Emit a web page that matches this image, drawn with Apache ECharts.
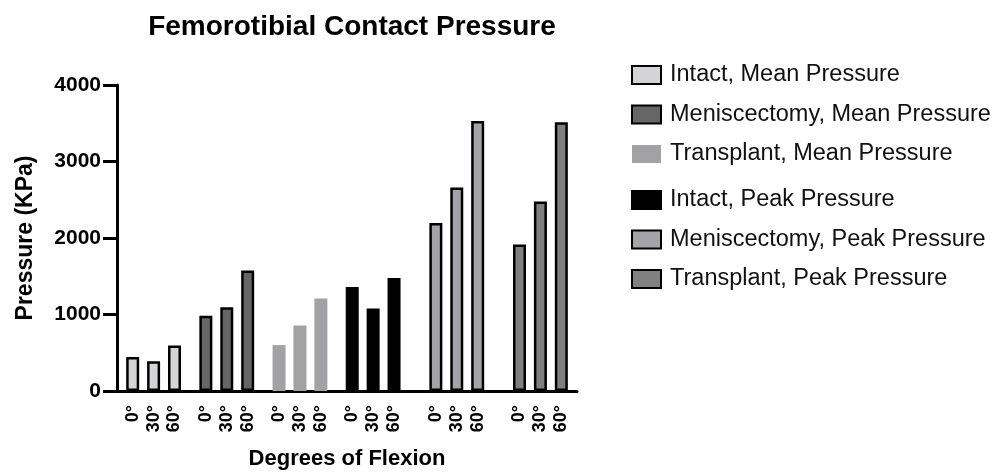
<!DOCTYPE html>
<html>
<head>
<meta charset="utf-8">
<script src="https://cdn.jsdelivr.net/npm/echarts@6/dist/echarts.min.js"></script>
<style>
html,body{margin:0;padding:0;background:#fff;}
#chart{width:1000px;height:475px;}
</style>
</head>
<body>
<div id="chart"></div>
<script>
// ---- data ----
const title = 'Femorotibial Contact Pressure';
const yName = 'Pressure (KPa)';
const xName = 'Degrees of Flexion';
const angles = ['0°', '30°', '60°'];
const seriesNames = [
  'Intact, Mean Pressure',
  'Meniscectomy, Mean Pressure',
  'Transplant, Mean Pressure',
  'Intact, Peak Pressure',
  'Meniscectomy, Peak Pressure',
  'Transplant, Peak Pressure'
];
const intactMean = [445, 390, 595];
const meniscectomyMean = [985, 1095, 1575];
const transplantMean = [600, 855, 1210];
const intactPeak = [1360, 1080, 1478];
const meniscectomyPeak = [2195, 2660, 3530];
const transplantPeak = [1915, 2478, 3512];
const yTicks = [0, 1000, 2000, 3000, 4000];

// ---- layout helpers (spacer categories between groups) ----
const values = [intactMean, meniscectomyMean, transplantMean, intactPeak, meniscectomyPeak, transplantPeak];
const gapsBefore = [1, 2, 2, 2, 3, 3]; // blank slots before each group
const categories = [];
const slotOf = [];
values.forEach((vals, g) => {
  for (let k = 0; k < gapsBefore[g]; k++) categories.push('');
  slotOf.push([]);
  angles.forEach((ang, a) => {
    if (a > 0) categories.push('');
    slotOf[g].push(categories.length);
    categories.push(ang);
  });
});
categories.push('');

const fills = ['#d4d4d6', '#666666', '#a2a2a4', '#000000', '#a4a4a8', '#808080'];
const borders = [2.5, 2.5, 0, 2.5, 2.5, 2.5];

const series = values.map((vals, g) => {
  const data = categories.map(() => null);
  vals.forEach((v, a) => { data[slotOf[g][a]] = v; });
  return {
    name: seriesNames[g],
    type: 'bar',
    data: data,
    barWidth: 13,
    barGap: '-100%',
    itemStyle: {
      color: fills[g],
      borderColor: '#000',
      borderWidth: borders[g]
    }
  };
});

const chart = echarts.init(document.getElementById('chart'), null, {renderer: 'canvas'});
const ff = '"Liberation Sans", Arial, Helvetica, sans-serif';
const legendCommon = {
  orient: 'vertical',
  left: 626,
  itemWidth: 29,
  itemHeight: 18,
  itemGap: 15.5,
  icon: 'rect',
  selectedMode: false,
  textStyle: {fontFamily: ff, fontSize: 23.5, color: '#111', padding: [0, 0, 0, 4]}
};
chart.setOption({
  animation: false,
  backgroundColor: '#fff',
  title: {
    text: title,
    left: 347,
    top: 8,
    textAlign: 'center',
    textStyle: {fontFamily: ff, fontSize: 28, fontWeight: 'bold', color: '#000'}
  },
  legend: [
    Object.assign({top: 58, data: seriesNames.slice(0, 3)}, legendCommon),
    Object.assign({top: 183, data: seriesNames.slice(3)}, legendCommon)
  ],
  grid: {left: 117, right: 423, top: 85, bottom: 82, containLabel: false},
  xAxis: {
    type: 'category',
    data: categories,
    name: xName,
    nameLocation: 'middle',
    nameGap: 57,
    nameTextStyle: {fontFamily: ff, fontSize: 22, fontWeight: 'bold', color: '#000'},
    axisLine: {lineStyle: {color: '#000', width: 3}},
    axisTick: {
      alignWithLabel: true,
      length: 11,
      lineStyle: {color: '#000', width: 3},
      interval: (i, v) => v !== ''
    },
    axisLabel: {
      interval: 0,
      rotate: 90,
      margin: 14,
      fontFamily: ff, fontSize: 18, fontWeight: 'bold', color: '#000'
    }
  },
  yAxis: {
    type: 'value',
    min: yTicks[0],
    max: yTicks[yTicks.length - 1],
    interval: yTicks[1] - yTicks[0],
    name: yName,
    nameLocation: 'middle',
    nameGap: 80,
    nameTextStyle: {fontFamily: ff, fontSize: 23, fontWeight: 'bold', color: '#000'},
    splitLine: {show: false},
    axisLine: {show: true, lineStyle: {color: '#000', width: 3}},
    axisTick: {show: true, length: 14, lineStyle: {color: '#000', width: 3}},
    axisLabel: {
      margin: 16,
      formatter: v => String(v),
      fontFamily: ff, fontSize: 21, fontWeight: 'bold', color: '#000'
    }
  },
  series: series
});
</script>
</body>
</html>
